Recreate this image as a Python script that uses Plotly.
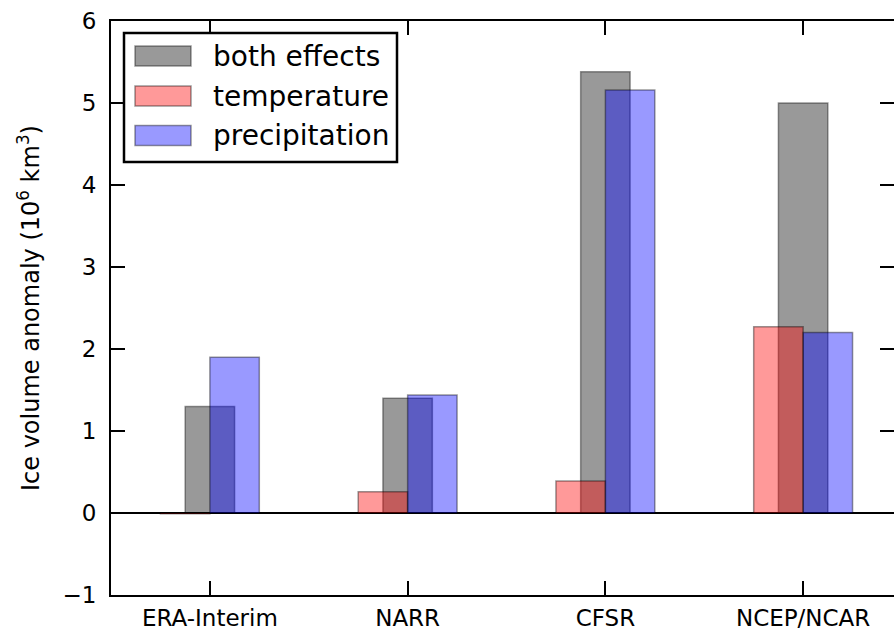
import plotly.graph_objects as go

# Reanalysis products and ice-volume anomaly (10^6 km^3) per forcing experiment
datasets = ["ERA-Interim", "NARR", "CFSR", "NCEP/NCAR"]
series_names = ["both effects", "temperature", "precipitation"]
both_effects = [1.30, 1.40, 5.38, 5.00]
temperature = [-0.01, 0.26, 0.39, 2.27]
precipitation = [1.90, 1.44, 5.16, 2.20]
y_ticks = [-1, 0, 1, 2, 3, 4, 5, 6]

fills = ["rgba(0,0,0,0.4)", "rgba(255,0,0,0.4)", "rgba(0,0,255,0.4)"]
edge = "rgba(0,0,0,0.4)"
bar_w = 0.25
offsets = [-bar_w / 2, -bar_w, 0.0]
values = [both_effects, temperature, precipitation]

FONT = "DejaVu Sans"
W, H = 894, 631
L, R, T, B = 111, 894, 21, 595  # plot area in pixels

xpos = list(range(len(datasets)))

fig = go.Figure()
for name, vals, col, off in zip(series_names, values, fills, offsets):
    fig.add_trace(go.Bar(
        x=xpos, y=vals, name=name, width=bar_w, offset=off,
        marker=dict(color=col, line=dict(color=edge, width=1.5)),
        showlegend=False,
    ))

# empty trace so the mirrored right-hand tick axis is drawn
fig.add_trace(go.Scatter(x=[None], y=[None], yaxis="y2", showlegend=False,
                         hoverinfo="skip"))

def px_x(p):
    return (p - L) / (R - L)

def px_y(p):
    return (B - p) / (B - T)

shapes = []
annotations = []

# legend frame
shapes.append(dict(type="rect", xref="paper", yref="paper",
                   x0=px_x(124), x1=px_x(397), y0=px_y(162), y1=px_y(33),
                   fillcolor="white", line=dict(color="black", width=2.5),
                   layer="above"))
row_centers = [56, 96, 135.5]
for name, col, yc in zip(series_names, fills, row_centers):
    shapes.append(dict(type="rect", xref="paper", yref="paper",
                       x0=px_x(135), x1=px_x(191),
                       y0=px_y(yc + 10), y1=px_y(yc - 10),
                       fillcolor=col, line=dict(color=edge, width=1.5),
                       layer="above"))
    annotations.append(dict(text=name, xref="paper", yref="paper",
                            x=px_x(211), y=px_y(yc), xanchor="left",
                            yanchor="middle", showarrow=False,
                            font=dict(family=FONT, size=28, color="black")))

# y-axis title
annotations.append(dict(text="Ice volume anomaly (10<sup>6</sup> km<sup>3</sup>)",
                        xref="paper", yref="paper", x=0, y=0.5, xshift=29 - L,
                        xanchor="center", yanchor="middle", textangle=-90,
                        showarrow=False,
                        font=dict(family=FONT, size=24, color="black")))

fig.update_layout(
    width=W, height=H,
    margin=dict(l=L, r=W - R, t=T, b=H - B, pad=0, autoexpand=False),
    paper_bgcolor="white", plot_bgcolor="white",
    barmode="overlay",
    font=dict(family=FONT, size=23, color="black"),
    xaxis=dict(
        range=[-0.5, -0.5 + (R - L) / 197.75],
        tickvals=xpos, ticktext=datasets,
        ticks="inside", ticklen=14, tickwidth=2, tickcolor="black",
        showline=True, linecolor="black", linewidth=2, mirror="ticks",
        showgrid=False, zeroline=False, ticklabelstandoff=1,
        automargin=False,
        tickfont=dict(family=FONT, size=23, color="black"),
    ),
    yaxis=dict(
        range=[-1, 6], tickvals=y_ticks,
        ticks="inside", ticklen=14, tickwidth=2, tickcolor="black",
        showline=True, linecolor="black", linewidth=2, mirror=False,
        showgrid=False, zeroline=True, zerolinecolor="black", zerolinewidth=1.5,
        ticklabelstandoff=8, automargin=False,
        tickfont=dict(family=FONT, size=23, color="black"),
    ),
    yaxis2=dict(
        range=[-1, 6], tickvals=y_ticks, overlaying="y", side="right",
        ticks="inside", ticklen=14, tickwidth=2, tickcolor="black",
        showline=False, showgrid=False, zeroline=False, showticklabels=False,
        automargin=False,
    ),
    shapes=shapes,
    annotations=annotations,
)

fig.write_html("out.html")
